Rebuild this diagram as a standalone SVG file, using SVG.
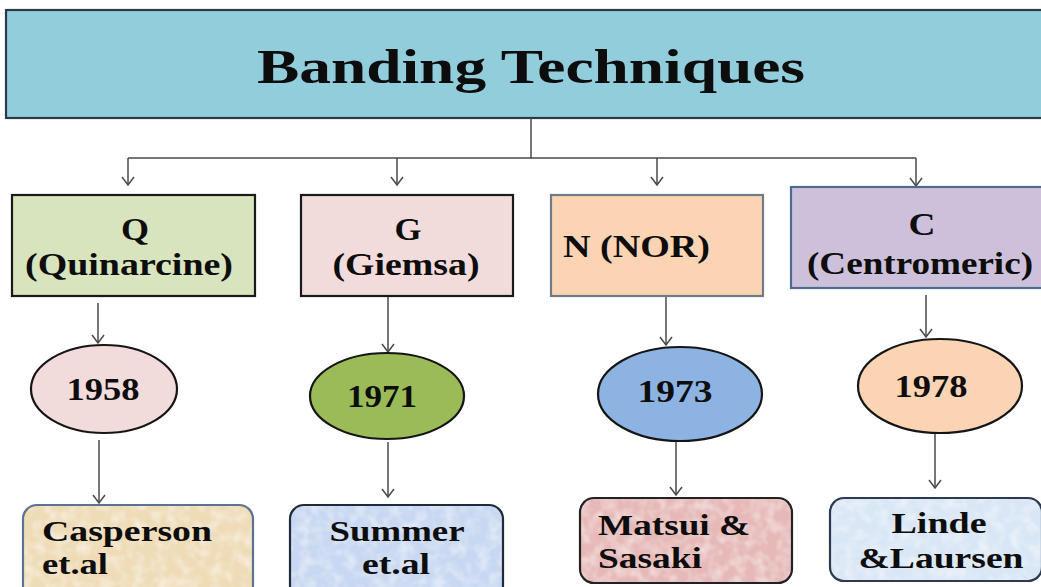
<svg xmlns="http://www.w3.org/2000/svg" width="1041" height="587" viewBox="0 0 1041 587">
<style>
.t{font-family:"Liberation Serif","Times New Roman",serif;font-weight:bold;fill:#0d0d0d;font-size:32px;}
.b{font-size:30px;}
.m{text-anchor:middle;}
.box{stroke-width:2.2;}
.ell{stroke:#151515;stroke-width:2.2;}
.con{fill:none;stroke:#4a4a4a;stroke-width:1.5;}
.arr{fill:none;stroke:#4a4a4a;stroke-width:1.5;marker-end:url(#ah);}
</style>
<defs>
<marker id="ah" markerUnits="userSpaceOnUse" markerWidth="14" markerHeight="14" viewBox="-10 -7 12 14" refX="0" refY="0" orient="auto">
<path d="M-8,-6 L0,0 L-8,6" fill="none" stroke="#4a4a4a" stroke-width="1.5"/>
</marker>
<filter id="tex" x="0" y="0" width="100%" height="100%">
<feTurbulence type="fractalNoise" baseFrequency="0.09" numOctaves="2" seed="3" result="n"/>
<feColorMatrix in="n" type="matrix" values="0 0 0 0 1  0 0 0 0 1  0 0 0 0 1  0.9 0 0 0 -0.35" result="w"/>
<feComposite in="w" in2="SourceGraphic" operator="in" result="wm"/>
<feMerge><feMergeNode in="SourceGraphic"/><feMergeNode in="wm"/></feMerge>
</filter>
</defs>
<rect width="1041" height="587" fill="#ffffff"/>

<g id="title">
<rect x="6" y="10" width="1040" height="108" fill="#92CDDC" stroke="#2b3a44" class="box"/>
<text class="t m" x="531" y="83" style="font-size:48px" textLength="548" lengthAdjust="spacingAndGlyphs">Banding Techniques</text>
</g>

<g id="connectors">
<path class="con" d="M531,118 V158 M128,158 H916"/>
<path class="arr" d="M128,158 V185"/>
<path class="arr" d="M397,158 V185"/>
<path class="arr" d="M657,158 V185"/>
<path class="arr" d="M916,158 V186"/>
<path class="arr" d="M98,303 V343"/>
<path class="arr" d="M388,297 V352"/>
<path class="arr" d="M666,296 V345"/>
<path class="arr" d="M926,295 V337"/>
<path class="arr" d="M99,440 V503"/>
<path class="arr" d="M388,442 V497"/>
<path class="arr" d="M676,440 V495"/>
<path class="arr" d="M935,433 V488"/>
</g>

<g id="q">
<rect x="12" y="195" width="243" height="101" fill="#D7E4BD" stroke="#1a1a1a" class="box"/>
<text class="t m" x="135" y="240" textLength="28" lengthAdjust="spacingAndGlyphs">Q</text>
<text class="t m" x="129" y="275" textLength="208" lengthAdjust="spacingAndGlyphs">(Quinarcine)</text>
</g>

<g id="g">
<rect x="301" y="195" width="212" height="101" fill="#F2DCDB" stroke="#1a1a1a" class="box"/>
<text class="t m" x="408" y="240" textLength="27" lengthAdjust="spacingAndGlyphs">G</text>
<text class="t m" x="406" y="275" textLength="147" lengthAdjust="spacingAndGlyphs">(Giemsa)</text>
</g>

<g id="n">
<rect x="551" y="195" width="212" height="101" fill="#FBD4B4" stroke="#6f7b88" class="box"/>
<text class="t" x="563" y="257" textLength="147" lengthAdjust="spacingAndGlyphs">N (NOR)</text>
</g>

<g id="c">
<rect x="791" y="187" width="255" height="101" fill="#CCC0DA" stroke="#4f6a92" class="box"/>
<text class="t m" x="922" y="235" textLength="27" lengthAdjust="spacingAndGlyphs">C</text>
<text class="t m" x="920" y="274" textLength="226" lengthAdjust="spacingAndGlyphs">(Centromeric)</text>
</g>

<g id="y1958">
<ellipse cx="104" cy="389" rx="73" ry="44" fill="#F2DCDB" class="ell"/>
<text class="t m" x="103" y="400" textLength="73" lengthAdjust="spacingAndGlyphs">1958</text>
</g>

<g id="y1971">
<ellipse cx="387" cy="396" rx="77" ry="43" fill="#9BBB59" class="ell"/>
<text class="t m" x="382" y="407" textLength="70" lengthAdjust="spacingAndGlyphs">1971</text>
</g>

<g id="y1973">
<ellipse cx="680" cy="394" rx="82" ry="47" fill="#8DB3E2" class="ell"/>
<text class="t m" x="675" y="402" textLength="75" lengthAdjust="spacingAndGlyphs">1973</text>
</g>

<g id="y1978">
<ellipse cx="940" cy="386" rx="82" ry="47" fill="#FBD4B4" class="ell"/>
<text class="t m" x="931" y="397" textLength="73" lengthAdjust="spacingAndGlyphs">1978</text>
</g>

<g id="casperson">
<rect x="23" y="505" width="230" height="95" rx="14" fill="#EFDCB6" filter="url(#tex)"/>
<rect x="23" y="505" width="230" height="95" rx="14" fill="none" stroke="#5b7290" class="box"/>
<text class="t b" x="42" y="541" textLength="170" lengthAdjust="spacingAndGlyphs">Casperson</text>
<text class="t b" x="42" y="574" textLength="66" lengthAdjust="spacingAndGlyphs">et.al</text>
</g>

<g id="summer">
<rect x="290" y="505" width="213" height="95" rx="14" fill="#C8D8F2" filter="url(#tex)"/>
<rect x="290" y="505" width="213" height="95" rx="14" fill="none" stroke="#1f2a3a" class="box"/>
<text class="t b m" x="397" y="541" textLength="135" lengthAdjust="spacingAndGlyphs">Summer</text>
<text class="t b m" x="396" y="574" textLength="68" lengthAdjust="spacingAndGlyphs">et.al</text>
</g>

<g id="matsui">
<rect x="580" y="498" width="212" height="85" rx="14" fill="#E6B9B8" filter="url(#tex)"/>
<rect x="580" y="498" width="212" height="85" rx="14" fill="none" stroke="#222222" class="box"/>
<text class="t b" x="598" y="535" textLength="152" lengthAdjust="spacingAndGlyphs">Matsui &amp;</text>
<text class="t b" x="598" y="568" textLength="104" lengthAdjust="spacingAndGlyphs">Sasaki</text>
</g>

<g id="linde">
<rect x="830" y="498" width="212" height="83" rx="14" fill="#D9E6F5" filter="url(#tex)"/>
<rect x="830" y="498" width="212" height="83" rx="14" fill="none" stroke="#2b3a4f" class="box"/>
<text class="t b m" x="939" y="533" textLength="95" lengthAdjust="spacingAndGlyphs">Linde</text>
<text class="t b m" x="941" y="568" textLength="165" lengthAdjust="spacingAndGlyphs">&amp;Laursen</text>
</g>
</svg>
